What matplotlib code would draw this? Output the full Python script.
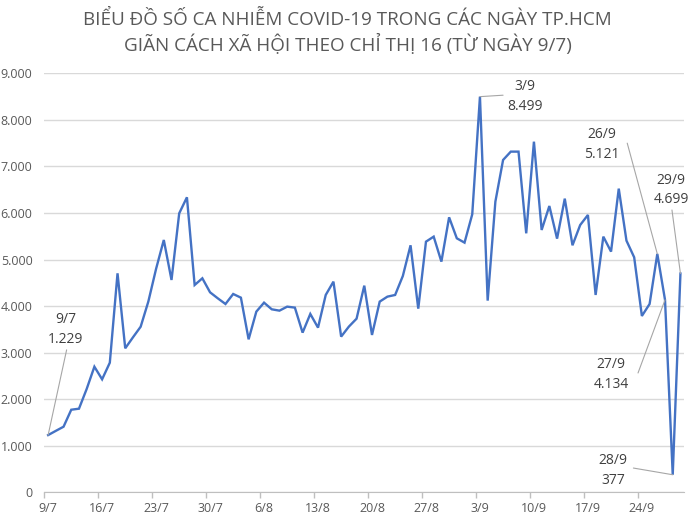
import matplotlib
matplotlib.use("Agg")
import matplotlib.pyplot as plt
import numpy as np

# ngày 9/7 -> 29/9 (83 ngày), số ca nhiễm mỗi ngày
first_day = ['9/7', '16/7', '23/7', '30/7', '6/8', '13/8', '20/8', '27/8',
             '3/9', '10/9', '17/9', '24/9']
cases = [1229, 1320, 1409, 1774, 1796, 2220, 2698, 2427, 2784, 4704,
         3093, 3329, 3557, 4100, 4800, 5420, 4561, 5993, 6337, 4453,
         4597, 4296, 4167, 4045, 4260, 4181, 3286, 3881, 4074, 3931,
         3902, 3988, 3967, 3430, 3831, 3537, 4239, 4525, 3344, 3559,
         3730, 4439, 3380, 4096, 4203, 4239, 4647, 5306, 3945, 5384,
         5492, 4955, 5907, 5456, 5363, 5971, 8499, 4117, 6244, 7139,
         7318, 7318, 5563, 7532, 5635, 6150, 5449, 6308, 5306, 5742,
         5957, 4239, 5492, 5170, 6523, 5406, 5048, 3788, 4045, 5121,
         4134, 377, 4699]
title = ('BIỂU ĐỒ SỐ CA NHIỄM COVID-19 TRONG CÁC NGÀY TP.HCM\n'
         'GIÃN CÁCH XÃ HỘI THEO CHỈ THỊ 16 (TỪ NGÀY 9/7)')

# điểm được ghi nhãn: (chỉ số, nhãn ngày)
labels = [(0, '9/7'), (56, '3/9'), (79, '26/9'), (82, '29/9'), (80, '27/9'), (81, '28/9')]
# vị trí chữ và đầu đường dẫn (x, y theo trục dữ liệu)
label_pos = {0: (2.3, 3490, 2.4, 3060),
             56: (61.8, 8510, 59.0, 8530),
             79: (71.8, 7480, 75.1, 7500),
             82: (80.8, 6494, 80.9, 6064),
             80: (73.0, 2522, 76.5, 2563),
             81: (73.3, 478, 75.9, 521)}

plt.rcParams['font.family'] = ['Open Sans', 'DejaVu Sans']

fig = plt.figure(figsize=(6.95, 5.23), dpi=100)
ax = fig.add_axes([0.0637, 0.0587, 0.9209, 0.8011])

x = np.arange(len(cases))
ax.plot(x, cases, color='#4472C4', lw=1.7, solid_joinstyle='miter', zorder=3)

ax.set_xlim(-0.5, len(cases) - 0.5)
ax.set_ylim(0, 9000)
ax.set_yticks(np.arange(0, 9001, 1000))
ax.set_yticklabels(['0'] + [f'{v // 1000}.000' for v in range(1000, 9001, 1000)])
ax.yaxis.grid(True, color='#d9d9d9', lw=1)
ax.set_axisbelow(True)
ax.tick_params(axis='y', length=0, pad=8.5, labelsize=9, labelcolor='#595959')

ax.set_xticks(np.arange(0, len(cases), 7))
ax.set_xticklabels(first_day)
ax.set_xticks(np.arange(-0.5, len(cases), 7), minor=True)
ax.tick_params(axis='x', which='major', length=0, pad=7, labelsize=9, labelcolor='#595959')
ax.tick_params(axis='x', which='minor', length=4, color='#bfbfbf', width=1)

for s in ['top', 'right', 'left']:
    ax.spines[s].set_visible(False)
ax.spines['bottom'].set_color('#bfbfbf')

for i, d in labels:
    tx, ty, lx, ly = label_pos[i]
    ax.annotate('', xy=(i, cases[i]), xytext=(lx, ly),
                arrowprops=dict(arrowstyle='-', color='#a6a6a6', lw=0.8,
                                shrinkA=0, shrinkB=0))
    val = f'{cases[i]:,}'.replace(',', '.')
    ax.text(tx, ty, f'{d}\n{val}', ha='center', va='center', fontsize=10,
            color='#404040', linespacing=1.45)

fig.text(0.5, 0.9374, title, ha='center', va='center', fontsize=13.6,
         color='#595959', linespacing=1.3)

fig.savefig('out.png', dpi=100)
